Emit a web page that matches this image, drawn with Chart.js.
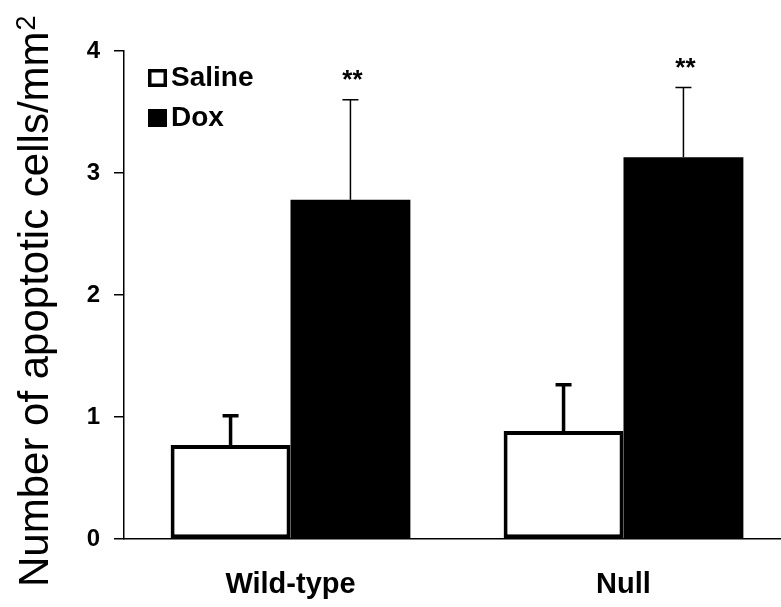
<!DOCTYPE html>
<html>
<head>
<meta charset="utf-8">
<script src="https://cdn.jsdelivr.net/npm/chart.js@4"></script>
<style>
  html, body { margin: 0; padding: 0; background: #fff; overflow: hidden; }
  #wrap { width: 800px; height: 607px; position: relative; }
</style>
</head>
<body>
<div id="wrap"><canvas id="apoptosisChart"></canvas></div>
<script>
// data
const groups = ['Wild-type', 'Null'];
const salineMeans = [0.77, 0.885];
const salineErrors = [0.24, 0.38];
const doxMeans = [2.78, 3.13];
const doxErrors = [0.82, 0.57];
const doxMarks = ['**', '**'];
const yTicks = [0, 1, 2, 3, 4];

const fontFamily = "'Liberation Sans', Arial, Helvetica, sans-serif";

// error bars (upper only), significance stars
const errorBarPlugin = {
    id: 'errorBars',
    afterDatasetsDraw(chart) {
        const ctx = chart.ctx;
        const yScale = chart.scales.y;
        chart.data.datasets.forEach((ds, i) => {
            const meta = chart.getDatasetMeta(i);
            meta.data.forEach((bar, j) => {
                const top = yScale.getPixelForValue(ds.data[j] + ds.errors[j]);
                ctx.save();
                ctx.strokeStyle = '#000';
                ctx.lineWidth = ds.errWidth;
                ctx.beginPath();
                ctx.moveTo(bar.x, bar.y);
                ctx.lineTo(bar.x, top);
                ctx.moveTo(bar.x - 8, top);
                ctx.lineTo(bar.x + 8, top);
                ctx.stroke();
                if (ds.marks && ds.marks[j]) {
                    ctx.fillStyle = '#000';
                    ctx.font = 'bold 26px ' + fontFamily;
                    ctx.textAlign = 'center';
                    ctx.textBaseline = 'alphabetic';
                    ctx.fillText(ds.marks[j], bar.x + 2, top - 12);
                }
                ctx.restore();
            });
        });
    }
};

// rotated axis title with superscript, and the inset legend
const decorPlugin = {
    id: 'decor',
    afterDraw(chart) {
        const ctx = chart.ctx;
        const area = chart.chartArea;

        ctx.save();
        ctx.fillStyle = '#000';
        ctx.translate(48, 587);
        ctx.rotate(-Math.PI / 2);
        ctx.textAlign = 'left';
        ctx.textBaseline = 'alphabetic';
        ctx.font = '42px ' + fontFamily;
        const main = 'Number of apoptotic cells/mm';
        ctx.fillText(main, 0, 0);
        const w = ctx.measureText(main).width;
        ctx.font = '27px ' + fontFamily;
        ctx.fillText('2', w + 1, -13);
        ctx.restore();

        const rows = [
            { label: chart.data.datasets[0].label, fill: '#fff', y: area.top + 18 },
            { label: chart.data.datasets[1].label, fill: '#000', y: area.top + 58 }
        ];
        ctx.save();
        rows.forEach(r => {
            ctx.fillStyle = r.fill;
            ctx.fillRect(area.left + 24, r.y, 19, 18);
            ctx.strokeStyle = '#000';
            ctx.lineWidth = 3.5;
            ctx.strokeRect(area.left + 24 + 1.75, r.y + 1.75, 15.5, 14.5);
            ctx.fillStyle = '#000';
            ctx.font = 'bold 28px ' + fontFamily;
            ctx.textAlign = 'left';
            ctx.textBaseline = 'middle';
            ctx.fillText(r.label, area.left + 47, r.y + 9);
        });
        ctx.restore();
    }
};

const ctx = document.getElementById('apoptosisChart').getContext('2d');

const apoptosisChart = new Chart(ctx, {
    type: 'bar',
    data: {
        labels: groups,
        datasets: [{
            label: 'Saline',
            data: salineMeans,
            errors: salineErrors,
            errWidth: 3.5,
            backgroundColor: '#fff',
            borderColor: '#000',
            borderWidth: 4,
            borderSkipped: false
        }, {
            label: 'Dox',
            data: doxMeans,
            errors: doxErrors,
            errWidth: 1.5,
            marks: doxMarks,
            backgroundColor: '#000',
            borderColor: '#000',
            borderWidth: 0
        }]
    },
    options: {
        responsive: true,
        maintainAspectRatio: false,
        animation: false,
        events: [],
        categoryPercentage: 0.72,
        barPercentage: 1.0,
        layout: { padding: { top: 51, right: 10, bottom: 0, left: 0 } },
        plugins: {
            legend: { display: false },
            tooltip: { enabled: false }
        },
        scales: {
            x: {
                grid: { display: false, drawTicks: false },
                border: { display: true, color: '#000', width: 1.5 },
                ticks: {
                    color: '#000',
                    padding: 29,
                    font: { family: fontFamily, size: 29, weight: 'bold' }
                },
                afterFit(scale) { scale.height = 68; }
            },
            y: {
                min: 0,
                max: 4,
                grid: {
                    drawOnChartArea: false,
                    drawTicks: true,
                    tickLength: 10,
                    color: '#000',
                    lineWidth: 1.5
                },
                border: { display: true, color: '#000', width: 1.5 },
                afterBuildTicks(scale) {
                    scale.ticks = yTicks.map(v => ({ value: v }));
                },
                ticks: {
                    color: '#000',
                    padding: 14,
                    font: { family: fontFamily, size: 24, weight: 'bold' }
                },
                afterFit(scale) { scale.width = 124; }
            }
        }
    },
    plugins: [errorBarPlugin, decorPlugin]
});
</script>
</body>
</html>
